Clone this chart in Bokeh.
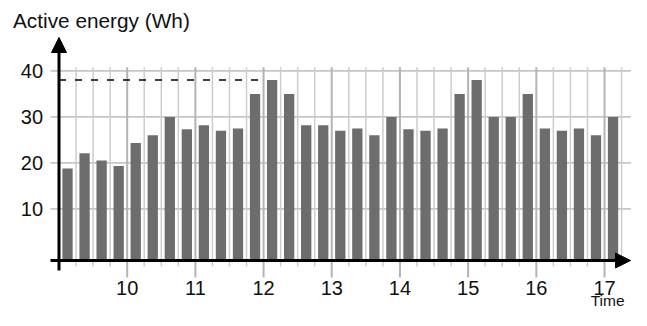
from bokeh.plotting import figure
from bokeh.models import Range1d, Arrow, NormalHead, ColumnDataSource
from bokeh.core.properties import value
from bokeh.embed import file_html
from bokeh.resources import INLINE

# ---------------- data ----------------
slot_starts = ["09:00", "09:15", "09:30", "09:45",
               "10:00", "10:15", "10:30", "10:45",
               "11:00", "11:15", "11:30", "11:45",
               "12:00", "12:15", "12:30", "12:45",
               "13:00", "13:15", "13:30", "13:45",
               "14:00", "14:15", "14:30", "14:45",
               "15:00", "15:15", "15:30", "15:45",
               "16:00", "16:15", "16:30", "16:45",
               "17:00"]
energy_wh = [18.8, 22.1, 20.5, 19.3,
             24.3, 26.0, 30.0, 27.3,
             28.2, 27.0, 27.5, 35.0,
             38.0, 35.0, 28.2, 28.2,
             27.0, 27.5, 26.0, 30.0,
             27.3, 27.0, 27.5, 35.0,
             38.0, 30.0, 30.0, 35.0,
             27.5, 27.0, 27.5, 26.0,
             30.0]
y_ticks = [10, 20, 30, 40]
y_tick_labels = ["10", "20", "30", "40"]
x_ticks = [10, 11, 12, 13, 14, 15, 16, 17]
x_tick_labels = ["10", "11", "12", "13", "14", "15", "16", "17"]
minor_ticks_min = [15, 30, 45]
y_title = "Active energy (Wh)"
x_title = "Time"

# ---------------- layout constants ----------------
W, H = 631, 310
PX_H = 68.19          # pixels per hour
AXIS_X = 58.5         # x pixel of 9:00
PX_V = 4.6            # pixels per Wh
ZERO_Y = 254.4        # y pixel of 0 Wh


def hx(px):
    return 9 + (px - AXIS_X) / PX_H


def vy(py):
    return (ZERO_Y - py) / PX_V


x0, x1 = hx(0), hx(W)
y0, y1 = vy(H), vy(0)

FONT = value("Liberation Sans")
TXT = "#111111"
SLOT = 0.25
BAR_W = 0.151

p = figure(width=W, height=H, output_backend="svg", toolbar_location=None,
           x_range=Range1d(x0, x1), y_range=Range1d(y0, y1),
           x_axis_type=None, y_axis_type=None, min_border=0,
           outline_line_color=None)

axis_y = vy(260)
starts_h = [int(s[:2]) + int(s[3:]) / 60 for s in slot_starts]
centers = [s + SLOT / 2 for s in starts_h]

# horizontal grid
p.segment(x0=[hx(50)] * len(y_ticks), x1=[x1] * len(y_ticks),
          y0=y_ticks, y1=y_ticks, line_color="#c6c6c6", line_width=1.6)

# minor vertical grid
minor_x = [h + m / 60 for h in [9] + x_ticks for m in minor_ticks_min
           if h + m / 60 <= x_ticks[-1] + 0.26]
p.segment(x0=minor_x, x1=minor_x, y0=[vy(66.7)] * len(minor_x), y1=[vy(266)] * len(minor_x),
          line_color="#cdcdcd", line_width=1.5)
# major vertical grid
p.segment(x0=x_ticks, x1=x_ticks, y0=[vy(66.7)] * len(x_ticks), y1=[vy(277)] * len(x_ticks),
          line_color="#b4b4b4", line_width=2)

# bars
src = ColumnDataSource(dict(x=centers, top=energy_wh))
p.vbar(x="x", top="top", bottom=axis_y, width=BAR_W, source=src,
       fill_color="#6d6d6d", line_color=None)

# dashed max line
imax = energy_wh.index(max(energy_wh))
p.segment(x0=[9], x1=[centers[imax] - BAR_W / 2], y0=[max(energy_wh)], y1=[max(energy_wh)],
          line_color="black", line_width=1.5, line_dash="7 9")

# axes with arrows
p.add_layout(Arrow(x_start=hx(50), y_start=axis_y, x_end=hx(630), y_end=axis_y,
                   line_color="black", line_width=3,
                   end=NormalHead(size=15, fill_color="black", line_color="black", line_width=1)))
p.add_layout(Arrow(x_start=9, y_start=vy(270), x_end=9, y_end=vy(37),
                   line_color="black", line_width=3,
                   end=NormalHead(size=15, fill_color="black", line_color="black", line_width=1)))

# tick labels
p.text(x=[9] * len(y_ticks), y=y_ticks, text=y_tick_labels, x_offset=-16,
       text_align="right", text_baseline="middle", text_font=FONT,
       text_font_size="20px", text_color=TXT)
p.text(x=x_ticks, y=[vy(287)] * len(x_ticks), text=x_tick_labels,
       text_align="center", text_baseline="middle", text_font=FONT,
       text_font_size="20px", text_color=TXT)

# axis titles
p.text(x=[hx(12.5)], y=[vy(19.5)], text=[y_title], text_align="left",
       text_baseline="middle", text_font=FONT, text_font_size="20.8px", text_color=TXT)
p.text(x=[hx(624)], y=[vy(300)], text=[x_title], text_align="right",
       text_baseline="middle", text_font=FONT, text_font_size="15.5px", text_color=TXT)

open("out.html", "w").write(file_html(p, INLINE))
